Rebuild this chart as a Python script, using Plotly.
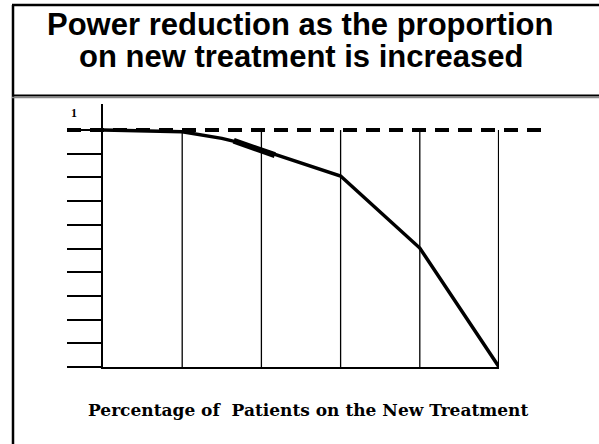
import plotly.graph_objects as go

# Data
pct = [0, 10, 20, 30, 35, 40, 60, 80, 100]
power = [1.0, 0.998, 0.993, 0.965, 0.945, 0.916, 0.806, 0.502, 0.0]
blob_pct = [33, 43.4]
blob_power = [0.955, 0.894]
grid_pct = [20, 40, 60, 80, 100]
y_ticks = [round(0.1 * i, 1) for i in range(11)]
reference_power = 1.0
title_lines = ["Power reduction as the proportion", "on new treatment is increased"]
xaxis_title = "Percentage of  Patients on the New Treatment"

W, H = 599, 444
# plot area in screen pixels
PX0, PX1, PY0, PY1 = 103, 499, 104, 367
L, R, T, B = PX0, W - PX1, PY0, H - PY1
Y0, Y1 = 0.0, 1.11
pw = W - L - R
ph = H - T - B

def sx(px):
    return (px - PX0) / pw

def sy(py):
    return (PY1 - py) / ph

fig = go.Figure()

fig.add_trace(go.Scatter(x=pct, y=power, mode="lines",
                         line=dict(color="black", width=3.5),
                         hoverinfo="skip", showlegend=False))
fig.add_trace(go.Scatter(x=blob_pct, y=blob_power, mode="lines",
                         line=dict(color="black", width=6),
                         hoverinfo="skip", showlegend=False))

shapes = []
for g in grid_pct:
    shapes.append(dict(type="line", xref="x", yref="y", x0=g, x1=g, y0=0, y1=reference_power,
                       line=dict(color="black", width=2.2 if g == 100 else 1.3), layer="below"))

ref_y = (reference_power - Y0) / (Y1 - Y0)
shapes.append(dict(type="line", xref="paper", yref="paper", x0=sx(67), x1=sx(546),
                   y0=ref_y, y1=ref_y, line=dict(color="black", width=4, dash="14px,9px")))

# frame
shapes.append(dict(type="line", xref="paper", yref="paper", x0=sx(13), x1=sx(13),
                   y0=sy(5), y1=sy(460), line=dict(color="black", width=2.5)))
shapes.append(dict(type="line", xref="paper", yref="paper", x0=sx(12), x1=sx(620),
                   y0=sy(5), y1=sy(5), line=dict(color="black", width=2.5)))
shapes.append(dict(type="line", xref="paper", yref="paper", x0=sx(12), x1=sx(620),
                   y0=sy(95.5), y1=sy(95.5), line=dict(color="black", width=2)))
shapes.append(dict(type="line", xref="paper", yref="paper", x0=sx(12), x1=sx(620),
                   y0=sy(97.5), y1=sy(97.5), line=dict(color="#888888", width=1.5)))

title_font = dict(family="Liberation Sans, Arial", size=31, color="black")
annotations = [
    dict(text="<b>" + title_lines[0] + "</b>", xref="paper", yref="paper", x=sx(300), y=sy(24),
         xanchor="center", yanchor="middle", showarrow=False, font=title_font),
    dict(text="<b>" + title_lines[1] + "</b>", xref="paper", yref="paper", x=sx(301), y=sy(56),
         xanchor="center", yanchor="middle", showarrow=False, font=title_font),
    dict(text="<b>1</b>", xref="paper", yref="paper", x=sx(74), y=sy(113),
         xanchor="center", yanchor="middle", showarrow=False,
         font=dict(family="Liberation Serif, Times New Roman", size=12, color="black")),
    dict(text="<b>" + xaxis_title + "</b>", xref="paper", yref="paper",
         x=sx(308), y=sy(410), xanchor="center", yanchor="middle", showarrow=False,
         font=dict(family="DejaVu Serif", size=17, color="black")),
]

fig.update_layout(
    width=W, height=H,
    margin=dict(l=L, r=R, t=T, b=B, pad=0),
    paper_bgcolor="white", plot_bgcolor="white",
    showlegend=False,
    shapes=shapes,
    annotations=annotations,
    xaxis=dict(range=[0, 100], showgrid=False, zeroline=False, showline=True,
               linecolor="black", linewidth=2, showticklabels=False, ticks="",
               fixedrange=True),
    yaxis=dict(range=[Y0, Y1], showgrid=False, zeroline=False, showline=True,
               linecolor="black", linewidth=1.5, tickvals=y_ticks, ticks="outside",
               ticklen=34, tickwidth=1.6, tickcolor="black", showticklabels=False,
               fixedrange=True),
)

fig.write_html("out.html", config={"displayModeBar": False},
               post_script="document.body.style.margin='0';document.body.style.overflow='hidden';")
